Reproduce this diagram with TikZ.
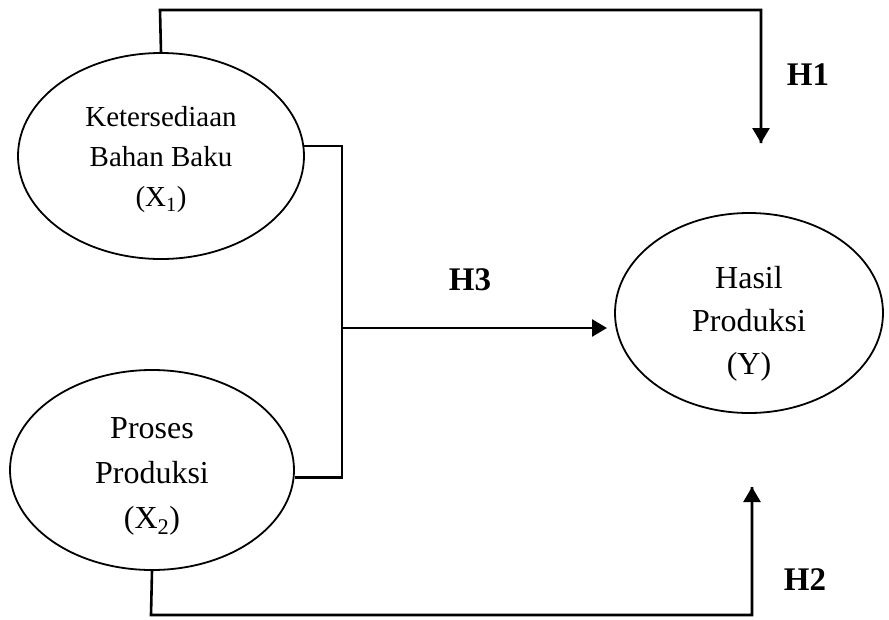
\documentclass[tikz,border=0pt]{standalone}
\usepackage{fontspec}
\setmainfont{Liberation Serif}
\usetikzlibrary{shapes.geometric,arrows.meta}
\begin{document}
\begin{tikzpicture}[x=1pt,y=-1pt,
  var/.style={draw, ellipse, line width=1.8pt, inner sep=0pt},
  txt/.style={align=center, inner sep=0pt},
  conn/.style={line width=2.6pt, line cap=butt},
  arr/.style={conn, -{Triangle[width=17pt,length=15pt]}},
  hlab/.style={font=\fontsize{33}{33}\selectfont\bfseries}]
\useasboundingbox (0,0) rectangle (889,619);
\fill[white] (0,0) rectangle (889,619);
\node[var, minimum width=286pt, minimum height=206pt] (x1) at (161,156) {};
\node[var, minimum width=284pt, minimum height=200pt] (x2) at (152,470) {};
\node[var, minimum width=268pt, minimum height=200pt] (y) at (749,313) {};
\node[txt, font=\fontsize{29}{40}\selectfont] (tx1) at (161,160)
  {Ketersediaan\\Bahan Baku\\(X\textsubscript{1})};
\node[txt, font=\fontsize{32}{45}\selectfont] (tx2) at (152,476)
  {Proses\\Produksi\\(X\textsubscript{2})};
\node[txt, font=\fontsize{32}{43}\selectfont] (ty) at (749,324)
  {Hasil\\Produksi\\(Y)};
\coordinate (t1) at (160,10);
\coordinate (h1) at (761,143);
\coordinate (j) at (342,328);
\coordinate (h3) at (607,328);
\coordinate (b2) at (151,615);
\coordinate (h2) at (752,487);
\draw[conn] (x1.north) -- (t1) -| (h1);
\draw[arr] (t1 -| h1) -- (h1);
\draw[conn] (x1.4) -| (j);
\draw[conn] (x2.-3) -| (j);
\draw[arr] (j) -- (h3);
\draw[conn] (x2.south) -- (b2) -| (h2);
\draw[arr] (b2 -| h2) -- (h2);
\node[hlab] (lh1) at (808,75) {H1};
\node[hlab] (lh3) at (470,280) {H3};
\node[hlab] (lh2) at (805,580) {H2};
\end{tikzpicture}
\end{document}
